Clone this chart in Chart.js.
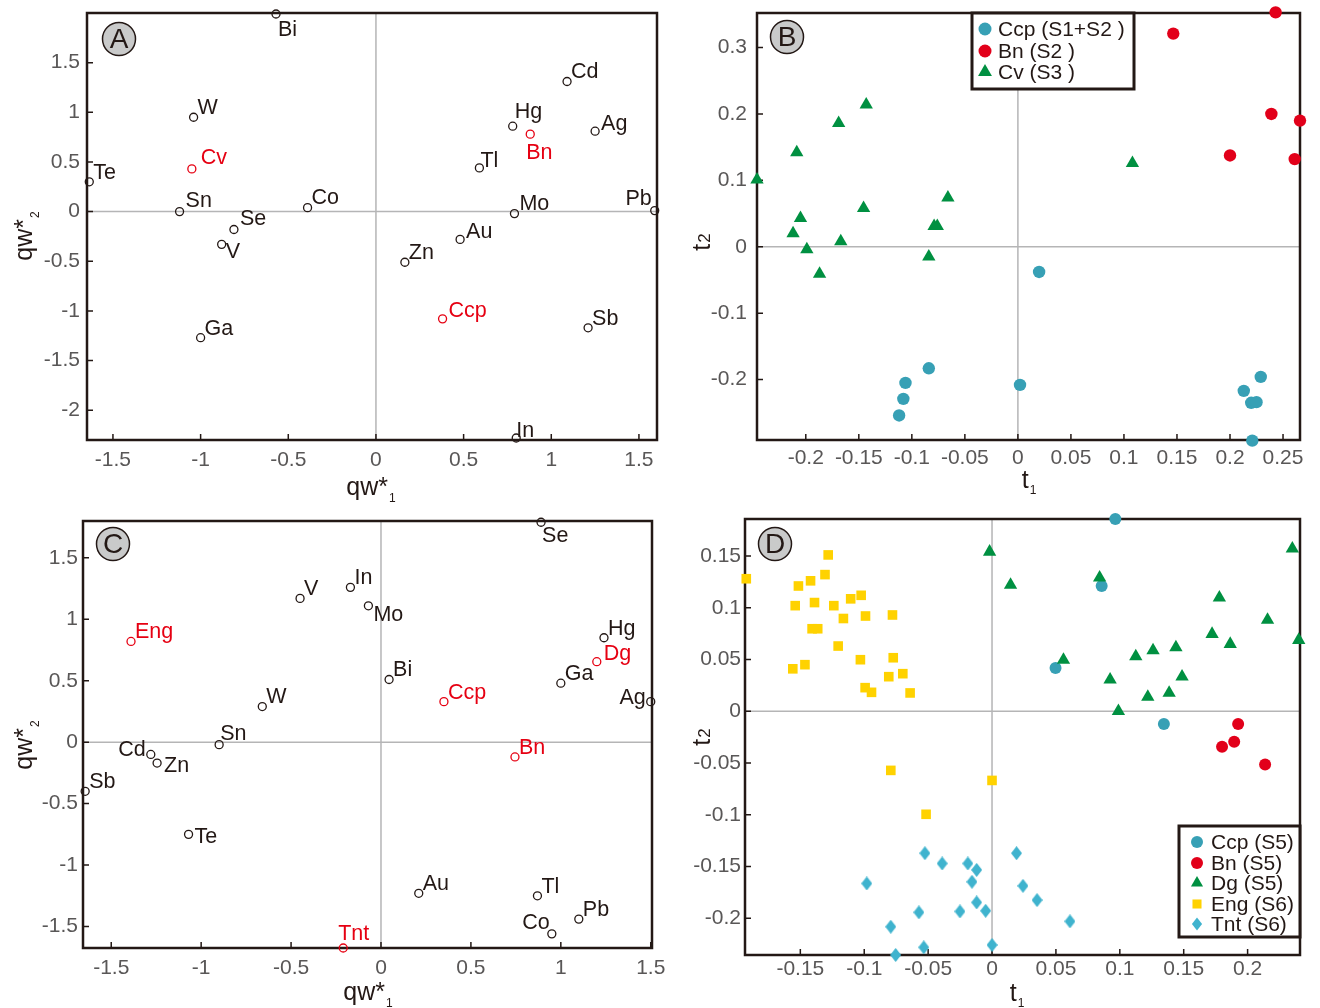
<!DOCTYPE html>
<html>
<head>
<meta charset="utf-8">
<script src="https://cdn.jsdelivr.net/npm/chart.js@4.4.1/dist/chart.umd.min.js"></script>
<style>
  body { margin: 0; background: #fff; width: 1320px; height: 1008px; position: relative; overflow: hidden; }
  canvas { position: absolute; }
</style>
</head>
<body>
<canvas id="chartA"></canvas>
<canvas id="chartB"></canvas>
<canvas id="chartC"></canvas>
<canvas id="chartD"></canvas>
<script>
// ---- panel A: element loadings ----
const elementsA = ['Bi','W','Cv','Te','Sn','Se','V','Co','Ga','Cd','Hg','Bn','Ag','Tl','Mo','Pb','Au','Zn','Ccp','Sb','In'];
const qw1A = [-0.57,-1.04,-1.05,-1.635,-1.12,-0.81,-0.88,-0.39,-1.0,1.09,0.78,0.88,1.25,0.59,0.79,1.59,0.48,0.165,0.38,1.21,0.80];
const qw2A = [1.99,0.95,0.43,0.30,0.0,-0.18,-0.33,0.04,-1.27,1.31,0.86,0.78,0.81,0.44,-0.02,0.01,-0.28,-0.51,-1.08,-1.17,-2.28];
const mineralsA = ['Cv','Bn','Ccp'];
const xTicksA = [-1.5,-1,-0.5,0,0.5,1,1.5];
const yTicksA = [-2,-1.5,-1,-0.5,0,0.5,1,1.5];

// ---- panel B: sample scores ----
const ccpB_t1 = [0.020,-0.084,-0.106,-0.108,-0.112,0.002,0.229,0.213,0.220,0.225,0.221];
const ccpB_t2 = [-0.038,-0.183,-0.205,-0.229,-0.254,-0.208,-0.196,-0.217,-0.235,-0.234,-0.292];
const bnB_t1 = [0.243,0.1465,0.239,0.266,0.200,0.261];
const bnB_t2 = [0.353,0.321,0.200,0.190,0.1375,0.132];
const cvB_t1 = [-0.246,-0.2085,-0.169,-0.143,-0.205,-0.212,-0.199,-0.167,-0.1455,-0.066,-0.079,-0.076,-0.084,-0.187,0.108];
const cvB_t2 = [0.101,0.142,0.186,0.214,0.043,0.020,-0.004,0.008,0.058,0.074,0.031,0.031,-0.015,-0.041,0.126];
const xTicksB = [-0.2,-0.15,-0.1,-0.05,0,0.05,0.1,0.15,0.2,0.25];
const yTicksB = [-0.2,-0.1,0,0.1,0.2,0.3];

// ---- panel C: element loadings ----
const elementsC = ['Eng','V','In','Mo','W','Sn','Cd','Zn','Sb','Te','Bi','Ccp','Se','Hg','Dg','Ga','Ag','Bn','Au','Tl','Pb','Co','Tnt'];
const qw1C = [-1.39,-0.45,-0.17,-0.07,-0.66,-0.90,-1.28,-1.245,-1.645,-1.07,0.045,0.35,0.89,1.24,1.20,1.00,1.50,0.745,0.21,0.87,1.10,0.95,-0.21];
const qw2C = [0.82,1.17,1.26,1.11,0.29,-0.02,-0.10,-0.17,-0.40,-0.75,0.51,0.33,1.79,0.85,0.655,0.48,0.33,-0.12,-1.23,-1.25,-1.44,-1.56,-1.675];
const mineralsC = ['Eng','Dg','Ccp','Bn','Tnt'];
const xTicksC = [-1.5,-1,-0.5,0,0.5,1,1.5];
const yTicksC = [-1.5,-1,-0.5,0,0.5,1,1.5];

// ---- panel D: sample scores ----
const ccpD_t1 = [0.0965,0.0858,0.0497,0.1345];
const ccpD_t2 = [0.1857,0.121,0.0418,-0.0122];
const bnD_t1 = [0.1926,0.1895,0.180,0.2137];
const bnD_t2 = [-0.0122,-0.0295,-0.0343,-0.0514];
const dgD_t1 = [-0.0019,0.0145,0.0842,0.235,0.1779,0.2156,0.240,0.1722,0.1864,0.0559,0.1125,0.126,0.1439,0.0924,0.1487,0.1219,0.1386,0.0989];
const dgD_t2 = [0.154,0.122,0.129,0.157,0.1098,0.0883,0.0688,0.0746,0.0649,0.0495,0.053,0.0588,0.0617,0.0305,0.0334,0.0139,0.0177,0.0];
const engD_t1 = [-0.1923,-0.1282,-0.1515,-0.142,-0.1307,-0.154,-0.1389,-0.1238,-0.1106,-0.1024,-0.1163,-0.099,-0.0779,-0.1408,-0.1364,-0.1204,-0.1559,-0.1464,-0.103,-0.0773,-0.0808,-0.0698,-0.0993,-0.0943,-0.0641,-0.0792,0.0,-0.0516];
const engD_t2 = [0.128,0.151,0.121,0.126,0.132,0.102,0.105,0.102,0.1086,0.112,0.0896,0.092,0.093,0.0797,0.0797,0.063,0.041,0.045,0.0498,0.0517,0.0334,0.0363,0.0228,0.0183,0.0177,-0.0571,-0.0668,-0.0995];
const tntD_t1 = [-0.098,-0.0525,-0.039,-0.0189,-0.012,-0.0157,-0.012,-0.005,-0.0251,-0.0572,-0.0792,-0.0754,-0.0534,0.0,0.0192,0.0242,0.0352,0.061];
const tntD_t2 = [-0.1663,-0.1371,-0.147,-0.147,-0.1532,-0.1647,-0.1846,-0.1927,-0.1933,-0.1942,-0.2081,-0.2354,-0.228,-0.2257,-0.1371,-0.1686,-0.1824,-0.2029];
const xTicksD = [-0.15,-0.1,-0.05,0,0.05,0.1,0.15,0.2];
const yTicksD = [-0.2,-0.15,-0.1,-0.05,0,0.05,0.1,0.15];

// label nudges [dx, dy, align]; anything missing goes up-right
const labelPosA = {
  Bi: [2, 16], Cv: [9, -11], Sn: [6, -11], Se: [6, -10], V: [4, 8], Co: [4, -10],
  Hg: [2, -14], Bn: [-4, 19], Ag: [6, -7], Tl: [1, -7], Mo: [5, -10],
  Pb: [-3, -12, 'right'], Au: [6, -7], Ccp: [6, -8], In: [0, -7]
};
const labelPosC = {
  Mo: [5, 9], Sn: [1, -11], Cd: [-5, -4, 'right'], Zn: [7, 3], Te: [6, 3], Se: [1, 14],
  Ag: [-5, -4, 'right'], Co: [-2, -11, 'right'], Tnt: [-5, -14], Dg: [7, -8]
};

const DARK = '#231815';
const RED = '#e60012';
const GRAY = '#595757';
const FONT = '"Liberation Sans", Arial, Helvetica, sans-serif';
const TEAL = '#37a0b5';
const BNRED = '#e2001a';
const GREEN = '#009041';
const YELLOW = '#ffd200';
const TNT = '#3fb3ce';

function pts(xs, ys) {
  return xs.map((v, i) => ({ x: v, y: ys[i] }));
}

function diamond(w, h, color) {
  const c = document.createElement('canvas');
  c.width = w; c.height = h;
  const g = c.getContext('2d');
  g.fillStyle = color;
  g.beginPath();
  g.moveTo(w / 2, 0); g.lineTo(w, h / 2); g.lineTo(w / 2, h); g.lineTo(0, h / 2);
  g.closePath(); g.fill();
  return c;
}

function drawMark(ctx, shape, x, y, r, color) {
  ctx.fillStyle = color;
  ctx.beginPath();
  if (shape === 'circle') {
    ctx.arc(x, y, r, 0, Math.PI * 2);
  } else if (shape === 'triangle') {
    ctx.moveTo(x, y - r);
    ctx.lineTo(x + r * 0.866, y + r * 0.5);
    ctx.lineTo(x - r * 0.866, y + r * 0.5);
    ctx.closePath();
  } else if (shape === 'rect') {
    const s = r * 0.707;
    ctx.rect(x - s, y - s, 2 * s, 2 * s);
  } else if (shape === 'diamond') {
    ctx.moveTo(x, y - r); ctx.lineTo(x + r * 0.78, y); ctx.lineTo(x, y + r); ctx.lineTo(x - r * 0.78, y);
    ctx.closePath();
  }
  ctx.fill();
}

function drawTitle(ctx, t, ox, oy) {
  ctx.save();
  ctx.fillStyle = DARK;
  ctx.textBaseline = 'alphabetic';
  ctx.textAlign = 'left';
  ctx.font = t.size + 'px ' + FONT;
  const mw = ctx.measureText(t.main).width;
  ctx.font = t.subSize + 'px ' + FONT;
  const sw = ctx.measureText(t.sub).width;
  const total = mw + 1 + sw;
  ctx.translate(t.x - ox, t.y - oy);
  if (t.rotate) ctx.rotate(-Math.PI / 2);
  ctx.font = t.size + 'px ' + FONT;
  ctx.fillText(t.main, -total / 2, 0);
  ctx.font = t.subSize + 'px ' + FONT;
  ctx.fillText(t.sub, -total / 2 + mw + 1, t.subDy);
  ctx.restore();
}

const decor = {
  id: 'decor',
  beforeDatasetsDraw(chart, args, o) {
    const { ctx, chartArea: a } = chart;
    const xs = chart.scales.x, ys = chart.scales.y;
    ctx.save();
    // zero lines
    ctx.strokeStyle = '#b5b5b6';
    ctx.lineWidth = 1.5;
    const x0 = xs.getPixelForValue(0), y0 = ys.getPixelForValue(0);
    ctx.beginPath();
    ctx.moveTo(x0, a.top); ctx.lineTo(x0, a.bottom);
    ctx.moveTo(a.left, y0); ctx.lineTo(a.right, y0);
    ctx.stroke();
    // inward tick marks
    ctx.strokeStyle = DARK;
    ctx.lineWidth = 1.5;
    ctx.beginPath();
    xs.ticks.forEach(t => {
      const px = xs.getPixelForValue(t.value);
      ctx.moveTo(px, a.bottom); ctx.lineTo(px, a.bottom - 6);
    });
    ys.ticks.forEach(t => {
      const py = ys.getPixelForValue(t.value);
      ctx.moveTo(a.left, py); ctx.lineTo(a.left + 6, py);
    });
    ctx.stroke();
    // frame
    ctx.lineWidth = 2.5;
    ctx.strokeRect(a.left, a.top, a.right - a.left, a.bottom - a.top);
    ctx.restore();
  },
  afterDatasetsDraw(chart, args, o) {
    const ctx = chart.ctx;
    ctx.save();
    // element labels
    chart.data.datasets.forEach((ds, i) => {
      if (!ds.names) return;
      const meta = chart.getDatasetMeta(i);
      ctx.font = '21.5px ' + FONT;
      ctx.textBaseline = 'middle';
      meta.data.forEach((pt, j) => {
        const name = ds.names[j];
        const off = (o.labelPos && o.labelPos[name]) || [4, -9];
        ctx.textAlign = off[2] || 'left';
        ctx.fillStyle = o.minerals.includes(name) ? RED : DARK;
        ctx.fillText(name, pt.x + off[0], pt.y + off[1]);
      });
    });
    // legend box
    if (o.legend) {
      const L = o.legend;
      const r = L.rect;
      ctx.fillStyle = '#fff';
      ctx.fillRect(r[0] - o.ox, r[1] - o.oy, r[2] - r[0], r[3] - r[1]);
      ctx.strokeStyle = DARK;
      ctx.lineWidth = 3;
      ctx.strokeRect(r[0] - o.ox, r[1] - o.oy, r[2] - r[0], r[3] - r[1]);
      ctx.font = '21px ' + FONT;
      ctx.textBaseline = 'middle';
      ctx.textAlign = 'left';
      chart.data.datasets.forEach((ds, i) => {
        const yy = L.rows[i] - o.oy;
        drawMark(ctx, ds.shape, L.markX - o.ox, yy, L.markR[ds.shape], ds.backgroundColor);
        ctx.fillStyle = DARK;
        ctx.fillText(ds.label, L.textX - o.ox, yy + 1);
      });
    }
    // panel letter
    const b = o.badge;
    ctx.beginPath();
    ctx.arc(b.x - o.ox, b.y - o.oy, 16.5, 0, Math.PI * 2);
    ctx.fillStyle = '#c9caca';
    ctx.fill();
    ctx.lineWidth = 1.5;
    ctx.strokeStyle = DARK;
    ctx.stroke();
    ctx.fillStyle = DARK;
    ctx.font = '28px ' + FONT;
    ctx.textAlign = 'center';
    ctx.textBaseline = 'middle';
    ctx.fillText(b.text, b.x - o.ox, b.y - o.oy + 1);
    ctx.restore();
    drawTitle(ctx, o.xTitle, o.ox, o.oy);
    drawTitle(ctx, o.yTitle, o.ox, o.oy);
  }
};

function panel(id, box, area, conf) {
  const cv = document.getElementById(id);
  cv.style.left = box[0] + 'px';
  cv.style.top = box[1] + 'px';
  cv.width = box[2];
  cv.height = box[3];
  const tickFont = { family: FONT, size: 21 };
  return new Chart(cv, {
    type: 'scatter',
    data: { datasets: conf.datasets },
    options: {
      responsive: false,
      animation: false,
      events: [],
      layout: { padding: { left: 0, top: area[1] - box[1], right: box[0] + box[2] - area[2], bottom: 0 } },
      plugins: {
        legend: { display: false },
        tooltip: { enabled: false },
        decor: Object.assign({ ox: box[0], oy: box[1] }, conf.decor)
      },
      scales: {
        x: {
          type: 'linear',
          min: conf.xRange[0],
          max: conf.xRange[1],
          afterBuildTicks: s => { s.ticks = conf.xTicks.map(v => ({ value: v })); },
          afterFit: s => {
            s.height = box[1] + box[3] - area[3];
            s.paddingLeft = 0; s.paddingRight = 0;
          },
          grid: { display: false, drawTicks: false },
          border: { display: false },
          ticks: { padding: conf.xPad, color: GRAY, font: tickFont, maxRotation: 0, autoSkip: false, callback: v => String(v) }
        },
        y: {
          type: 'linear',
          min: conf.yRange[0],
          max: conf.yRange[1],
          afterBuildTicks: s => { s.ticks = conf.yTicks.map(v => ({ value: v })); },
          afterFit: s => {
            s.width = area[0] - box[0];
            s.paddingTop = 0; s.paddingBottom = 0;
          },
          grid: { display: false, drawTicks: false },
          border: { display: false },
          ticks: { padding: conf.yPad, color: GRAY, font: tickFont, autoSkip: false, callback: v => String(v) }
        }
      }
    },
    plugins: [decor]
  });
}

function loadingSet(names, xs, ys, minerals) {
  return {
    label: 'elements',
    names: names,
    data: pts(xs, ys),
    pointStyle: 'circle',
    pointRadius: 4,
    pointBorderWidth: 1.3,
    pointBackgroundColor: 'rgba(0,0,0,0)',
    pointBorderColor: names.map(n => minerals.includes(n) ? RED : DARK),
    showLine: false,
    clip: false
  };
}

function scoreSet(label, xs, ys, shape, color, radius, order) {
  return {
    label: label,
    shape: shape,
    data: pts(xs, ys),
    pointStyle: shape === 'diamond' ? diamond(11, 14, color) : shape,
    pointRadius: radius,
    pointBorderWidth: 0,
    backgroundColor: color,
    pointBackgroundColor: color,
    showLine: false,
    clip: false,
    order: order
  };
}

panel('chartA', [0, 0, 700, 510], [87, 13, 657, 440], {
  datasets: [loadingSet(elementsA, qw1A, qw2A, mineralsA)],
  xRange: [-1.648, 1.603], yRange: [-2.3, 2.0],
  xTicks: xTicksA, yTicks: yTicksA, xPad: 8, yPad: 7,
  decor: {
    minerals: mineralsA, labelPos: labelPosA,
    badge: { x: 119, y: 39, text: 'A' },
    xTitle: { main: 'qw*', sub: '1', x: 371, y: 495, size: 25, subSize: 12, subDy: 7 },
    yTitle: { main: 'qw*', sub: '2', x: 32, y: 236, size: 25, subSize: 12, subDy: 7, rotate: true }
  }
});

panel('chartB', [680, 0, 640, 510], [757, 13, 1300, 440], {
  datasets: [
    scoreSet('Ccp (S1+S2 )', ccpB_t1, ccpB_t2, 'circle', TEAL, 6.2, 3),
    scoreSet('Bn (S2 )', bnB_t1, bnB_t2, 'circle', BNRED, 6.2, 2),
    scoreSet('Cv (S3 )', cvB_t1, cvB_t2, 'triangle', GREEN, 7.7, 1)
  ],
  xRange: [-0.246, 0.266], yRange: [-0.291, 0.352],
  xTicks: xTicksB, yTicks: yTicksB, xPad: 6, yPad: 10,
  decor: {
    minerals: [],
    badge: { x: 787, y: 37, text: 'B' },
    legend: { rect: [972, 13, 1134, 89], rows: [29, 51, 72], markX: 985, textX: 998, markR: { circle: 6.5, triangle: 8 } },
    xTitle: { main: 't', sub: '1', x: 1029, y: 488, size: 25, subSize: 12, subDy: 6 },
    yTitle: { main: 't', sub: '2', x: 710, y: 242, size: 25, subSize: 17, subDy: 0, rotate: true }
  }
});

panel('chartC', [0, 505, 700, 503], [83, 521, 652, 948], {
  datasets: [loadingSet(elementsC, qw1C, qw2C, mineralsC)],
  xRange: [-1.657, 1.507], yRange: [-1.675, 1.80],
  xTicks: xTicksC, yTicks: yTicksC, xPad: 8, yPad: 5,
  decor: {
    minerals: mineralsC, labelPos: labelPosC,
    badge: { x: 113, y: 544, text: 'C' },
    xTitle: { main: 'qw*', sub: '1', x: 368, y: 1000, size: 25, subSize: 12, subDy: 7 },
    yTitle: { main: 'qw*', sub: '2', x: 32, y: 745, size: 25, subSize: 12, subDy: 7, rotate: true }
  }
});

panel('chartD', [680, 505, 640, 503], [745, 519, 1300, 955], {
  datasets: [
    scoreSet('Ccp (S5)', ccpD_t1, ccpD_t2, 'circle', TEAL, 6, 5),
    scoreSet('Bn (S5)', bnD_t1, bnD_t2, 'circle', BNRED, 6, 4),
    scoreSet('Dg (S5)', dgD_t1, dgD_t2, 'triangle', GREEN, 7.7, 3),
    scoreSet('Eng (S6)', engD_t1, engD_t2, 'rect', YELLOW, 6.8, 2),
    scoreSet('Tnt (S6)', tntD_t1, tntD_t2, 'diamond', TNT, 7, 1)
  ],
  xRange: [-0.1933, 0.241], yRange: [-0.2354, 0.1857],
  xTicks: xTicksD, yTicks: yTicksD, xPad: 2, yPad: 4,
  decor: {
    minerals: [],
    badge: { x: 775, y: 544, text: 'D' },
    legend: { rect: [1179, 826, 1300, 937], rows: [842, 863, 883, 904, 924], markX: 1197, textX: 1211, markR: { circle: 6, triangle: 7, rect: 6.4, diamond: 6.5 } },
    xTitle: { main: 't', sub: '1', x: 1017, y: 1001, size: 25, subSize: 12, subDy: 6 },
    yTitle: { main: 't', sub: '2', x: 710, y: 737, size: 25, subSize: 17, subDy: 0, rotate: true }
  }
});
</script>
</body>
</html>
